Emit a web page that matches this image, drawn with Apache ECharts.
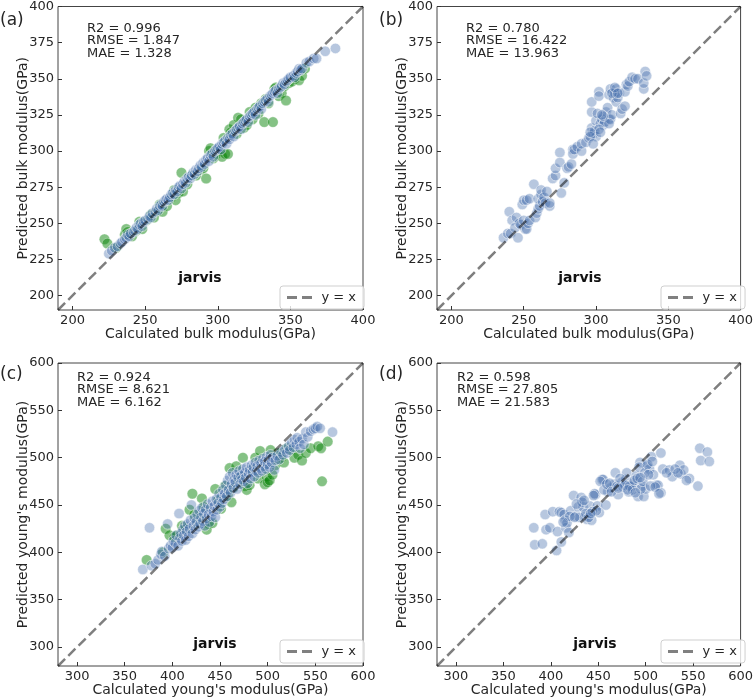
<!DOCTYPE html>
<html><head><meta charset="utf-8">
<script src="https://cdn.jsdelivr.net/npm/echarts@6/dist/echarts.min.js"></script>
<style>html,body{margin:0;padding:0;background:#fff}#c{width:756px;height:698px}</style>
</head><body><div id="c"></div>
<script>
// ---- data ----
const panelLabels = ['(a)', '(b)', '(c)', '(d)'];
const stats = [
  ['R2 = 0.996', 'RMSE = 1.847', 'MAE = 1.328'],
  ['R2 = 0.780', 'RMSE = 16.422', 'MAE = 13.963'],
  ['R2 = 0.924', 'RMSE = 8.621', 'MAE = 6.162'],
  ['R2 = 0.598', 'RMSE = 27.805', 'MAE = 21.583']
];
const xNames = ['Calculated bulk modulus(GPa)', 'Calculated bulk modulus(GPa)', "Calculated young's modulus(GPa)", "Calculated young's modulus(GPa)"];
const yNames = ['Predicted bulk modulus(GPa)', 'Predicted bulk modulus(GPa)', "Predicted young's modulus(GPa)", "Predicted young's modulus(GPa)"];
const bulkXTicks = [200, 250, 300, 350, 400];
const bulkYTicks = [200, 225, 250, 275, 300, 325, 350, 375, 400];
const youngTicks = [300, 350, 400, 450, 500, 550, 600];
const bulkRange = [190, 400];
const youngRange = [280, 600];

const aGreen = [[222,239],[224,236],[230,233],[236,242],[237,246],[238,244],[241,241],[244,245],[246,251],[248,246],[251,252],[254,256],[256,254],[258,258],[260,263],[262,258],[265,262],[268,268],[270,273],[271,266],[273,271],[275,285],[276,272],[279,277],[282,283],[285,283],[288,287],[290,288],[292,281],[294,300],[295,302],[297,295],[299,298],[301,300],[303,296],[304,309],[305,298],[307,298],[308,315],[309,313],[311,318],[313,312],[314,323],[316,322],[318,316],[320,318],[322,327],[324,322],[326,330],[328,326],[330,333],[332,320],[333,336],[335,333],[338,320],[339,343],[340,344],[342,338],[344,340],[346,345],[347,335],[349,347],[351,348],[353,350],[356,349],[358,352],[360,357]];
const aBlue = [[225,229],[227,231],[229,233],[231,234],[233,236],[234,237],[236,239],[237,240],[238,242],[239,241],[240,243],[242,244],[243,245],[244,247],[245,246],[246,249],[247,250],[248,248],[249,251],[250,252],[252,253],[253,255],[254,254],[255,257],[257,258],[258,260],[259,259],[260,262],[261,263],[262,262],[263,265],[264,266],[265,267],[266,266],[267,268],[268,270],[269,271],[270,270],[271,273],[272,272],[273,275],[274,276],[275,274],[276,277],[277,279],[278,278],[279,281],[280,282],[281,281],[282,283],[283,285],[284,284],[285,287],[286,286],[287,288],[288,290],[289,289],[290,292],[291,291],[292,294],[293,295],[294,293],[295,297],[296,298],[297,296],[298,300],[299,301],[300,302],[301,303],[302,301],[303,305],[304,306],[305,307],[306,305],[307,309],[308,308],[309,311],[310,312],[311,310],[312,314],[313,315],[314,316],[315,317],[316,315],[317,319],[318,320],[319,321],[320,322],[321,320],[322,324],[323,325],[324,326],[325,327],[326,325],[327,329],[328,330],[329,331],[330,329],[331,333],[332,334],[333,335],[334,336],[335,334],[336,338],[337,339],[338,340],[339,341],[340,342],[341,340],[342,343],[343,344],[344,345],[345,347],[346,346],[347,348],[348,349],[349,350],[350,351],[352,352],[353,351],[354,354],[355,355],[356,357],[357,356],[358,357],[361,361],[363,362],[366,364],[368,364],[374,369],[381,371]];
const bBlue = [[236,240],[239,243],[241,243],[240,258],[242,252],[244,247],[245,254],[246,240],[247,250],[248,249],[249,263],[250,266],[251,246],[250,252],[252,246],[253,250],[254,252],[252,266],[254,267],[257,277],[258,254],[259,257],[260,260],[261,262],[260,267],[262,270],[262,273],[263,265],[264,268],[265,264],[266,272],[268,262],[268,264],[270,281],[272,283],[272,288],[275,299],[275,292],[276,271],[278,278],[280,288],[281,289],[283,291],[284,301],[284,298],[285,301],[287,303],[290,300],[290,305],[293,306],[295,309],[297,316],[297,327],[297,334],[298,312],[299,314],[300,310],[300,321],[302,341],[302,338],[303,319],[304,322],[305,318],[306,320],[307,327],[308,330],[309,322],[309,339],[310,343],[310,322],[311,325],[312,337],[313,340],[314,343],[314,334],[315,337],[316,340],[317,326],[318,329],[320,341],[320,331],[321,346],[322,345],[323,348],[325,351],[327,350],[329,350],[333,343],[333,347],[334,355],[335,352],[302,315],[303,313],[305,324],[309,319],[296,310],[296,313],[298,305],[301,326],[304,325],[311,340],[313,344],[315,340]];
const cGreen = [[373,392],[390,400],[393,425],[397,418],[402,416],[405,418],[410,428],[414,425],[418,445],[421,462],[423,440],[425,430],[428,437],[431,457],[433,448],[436,424],[438,430],[442,431],[445,467],[448,455],[451,446],[455,470],[458,460],[460,489],[462,453],[464,468],[467,491],[469,476],[471,480],[474,500],[476,470],[478,466],[481,471],[484,487],[487,500],[490,478],[492,507],[495,490],[497,472],[499,480],[500,474],[502,476],[503,508],[505,482],[508,492],[511,505],[514,500],[517,495],[520,510],[524,508],[528,500],[532,503],[536,497],[540,505],[545,510],[553,512],[556,510],[557,475],[563,517]];
const cBlue = [[369,382],[376,426],[378,386],[382,388],[385,392],[388,398],[389,401],[392,396],[395,430],[396,404],[398,407],[400,405],[401,412],[403,410],[404,418],[406,407],[407,441],[408,415],[409,420],[410,412],[411,424],[412,418],[413,428],[414,413],[415,422],[416,430],[417,417],[418,425],[419,434],[420,450],[421,420],[422,428],[423,436],[424,424],[425,432],[426,440],[427,427],[428,444],[429,430],[430,437],[431,447],[432,433],[433,441],[434,428],[435,445],[436,436],[437,451],[438,440],[439,432],[440,447],[441,438],[442,454],[443,443],[444,449],[445,437],[446,456],[447,445],[448,452],[449,462],[450,448],[451,458],[452,452],[453,466],[454,456],[455,462],[456,471],[457,459],[458,476],[459,466],[460,480],[461,463],[462,472],[463,484],[464,468],[465,477],[466,474],[467,482],[468,467],[469,479],[470,486],[471,472],[472,481],[473,477],[474,488],[475,475],[476,484],[477,479],[478,490],[479,473],[480,483],[481,487],[482,478],[483,492],[484,485],[485,490],[486,480],[487,495],[488,486],[489,491],[490,484],[491,497],[492,489],[493,494],[494,486],[495,499],[496,491],[497,496],[498,488],[499,501],[500,493],[501,498],[502,490],[503,503],[504,495],[505,500],[507,487],[508,497],[510,502],[512,498],[514,506],[516,503],[518,509],[520,505],[522,512],[523,508],[525,516],[527,511],[528,519],[530,514],[531,521],[533,517],[534,510],[536,520],[538,514],[540,527],[542,522],[545,528],[548,530],[550,531],[552,533],[555,531],[568,527]];
const dBlue = [[382,426],[383,408],[391,409],[394,440],[395,424],[399,426],[402,443],[407,422],[406,402],[409,443],[411,411],[411,442],[414,440],[415,434],[416,426],[417,431],[419,421],[421,444],[424,460],[426,438],[429,448],[432,458],[434,448],[436,438],[438,435],[441,449],[443,434],[447,461],[449,449],[451,442],[454,477],[455,477],[458,450],[460,464],[463,468],[467,472],[468,484],[471,461],[475,474],[479,477],[480,484],[482,464],[485,470],[487,473],[490,481],[492,459],[494,495],[496,470],[498,459],[500,467],[501,491],[504,488],[506,501],[508,482],[511,471],[513,471],[516,463],[516,505],[518,488],[525,487],[528,480],[536,492],[537,483],[540,487],[546,478],[555,470],[557,510],[558,497],[565,506],[567,496],[446,462],[452,475],[456,466],[459,472],[462,473],[464,464],[470,470],[473,478],[476,469],[478,471],[483,470],[486,466],[488,476],[491,478],[493,490],[495,467],[497,475],[499,484],[502,493],[503,482],[505,470],[507,496],[510,469],[430,437],[433,453],[437,441],[440,437],[444,443],[445,460],[448,444],[420,438],[425,437],[427,451],[413,432],[435,455],[442,441],[471,468],[481,466],[489,463],[494,479],[514,462],[522,484],[531,488],[534,484],[543,476]];

// ---- layout ----
const FONT = 'DejaVu Sans';
const TXT = '#262626';
const grids = [
  {left: 58, top: 6, width: 305, height: 304},
  {left: 437, top: 6, width: 308, height: 304},
  {left: 58, top: 363, width: 305, height: 304},
  {left: 437, top: 363, width: 307, height: 304}
];
const ranges = [bulkRange, bulkRange, youngRange, youngRange];
const xTicks = [bulkXTicks, bulkXTicks, youngTicks, youngTicks];
const yTicks = [bulkYTicks, bulkYTicks, youngTicks, youngTicks];
const greens = [aGreen, null, cGreen, null];
const blues = [aBlue, bBlue, cBlue, dBlue];
const statsPos = [[87, 22], [466, 22], [77, 371], [457, 371]];
const labelPos = [[0, 12], [379, 12], [0, 366], [379, 366]];
const jarvisPos = [[200, 278], [580, 278], [215, 644], [595, 644]];
const legendPos = [[280, 286], [661, 286], [280, 640], [661, 640]];

function axisCommon(i, ticks, name, isY) {
  return {
    type: 'value', gridIndex: i, min: ranges[i][0], max: ranges[i][1],
    name: name, nameLocation: 'middle', nameGap: isY ? 28 : 17, nameMoveOverlap: false,
    nameTextStyle: {fontFamily: FONT, fontSize: 14, color: TXT},
    axisLine: {show: false},
    axisTick: {show: true, inside: true, length: 4, customValues: ticks, lineStyle: {color: '#333', width: 1}},
    axisLabel: {customValues: ticks, fontFamily: FONT, fontSize: 13, color: TXT, margin: 4},
    splitLine: {show: false}
  };
}

const option = {
  animation: false,
  grid: grids.map(g => Object.assign({show: true, borderColor: '#444', borderWidth: 1, backgroundColor: 'transparent'}, g)),
  xAxis: grids.map((g, i) => axisCommon(i, xTicks[i], xNames[i], false)),
  yAxis: grids.map((g, i) => axisCommon(i, yTicks[i], yNames[i], true)),
  legend: grids.map((g, i) => ({
    left: legendPos[i][0], top: legendPos[i][1],
    data: [{name: 'y = x', icon: 'path://M0,0H10V3H0ZM15,0H25V3H15Z'}],
    itemWidth: 26, itemHeight: 3, itemGap: 6,
    padding: [5, 8, 5, 7], borderColor: '#cfcfcf', borderWidth: 1, borderRadius: 3,
    backgroundColor: 'rgba(255,255,255,0.8)',
    itemStyle: {color: '#808080'},
    textStyle: {fontFamily: FONT, fontSize: 13, color: TXT, padding: [0, 0, 0, 4]},
    selectedMode: false
  })),
  series: [],
  graphic: []
};

grids.forEach((g, i) => {
  if (greens[i]) {
    option.series.push({
      type: 'scatter', name: 'train', xAxisIndex: i, yAxisIndex: i, data: greens[i],
      symbolSize: 10.5, z: 2,
      itemStyle: {color: 'rgba(0,128,0,0.6)', borderColor: 'rgba(255,255,255,0.6)', borderWidth: 0.6}
    });
  }
  option.series.push({
    type: 'scatter', name: 'test', xAxisIndex: i, yAxisIndex: i, data: blues[i],
    symbolSize: 10.5, z: 3,
    itemStyle: {color: 'rgba(76,114,176,0.5)', borderColor: 'rgba(255,255,255,0.8)', borderWidth: 0.8}
  });
  option.series.push({
    type: 'line', name: 'y = x', xAxisIndex: i, yAxisIndex: i,
    data: [[ranges[i][0], ranges[i][0]], [ranges[i][1], ranges[i][1]]],
    symbol: 'none', z: 4, silent: true,
    lineStyle: {color: 'rgba(0,0,0,0.5)', width: 2.5, type: [10, 4.5]}
  });
  option.graphic.push({
    type: 'text', left: labelPos[i][0], top: labelPos[i][1],
    style: {text: panelLabels[i], font: '17px "DejaVu Sans"', fill: TXT}
  });
  option.graphic.push({
    type: 'text', left: statsPos[i][0], top: statsPos[i][1],
    style: {text: stats[i].join('\n'), font: '13px "DejaVu Sans"', lineHeight: 12.5, fill: TXT}
  });
  option.graphic.push({
    type: 'text', x: jarvisPos[i][0], y: jarvisPos[i][1],
    style: {text: 'jarvis', font: 'bold 14px "DejaVu Sans"', fill: '#111', align: 'center', verticalAlign: 'middle'}
  });
});

const chart = echarts.init(document.getElementById('c'), null, {renderer: 'canvas'});
chart.setOption(option);
</script></body></html>
